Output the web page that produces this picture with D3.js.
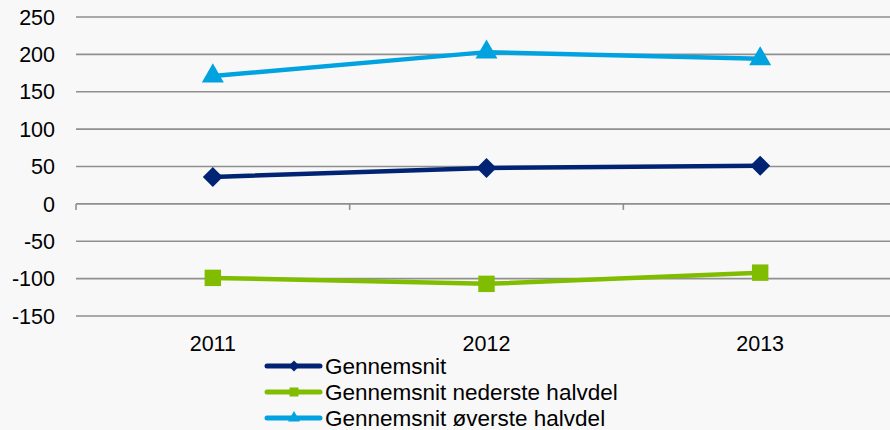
<!DOCTYPE html>
<html>
<head>
<meta charset="utf-8">
<script src="https://cdn.jsdelivr.net/npm/d3@7"></script>
<style>
  html, body { margin: 0; padding: 0; background: #f8f8f8; }
  svg { display: block; font-family: Arial, "Liberation Sans", sans-serif; }
</style>
</head>
<body>
<svg id="chart" width="890" height="430"></svg>
<script>
const years = ["2011", "2012", "2013"];
const avg = [36, 48, 51];
const avgLower = [-99, -107, -92];
const avgUpper = [171, 203, 194];
const yTicks = [-150, -100, -50, 0, 50, 100, 150, 200, 250];

const series = [
  { name: "Gennemsnit", values: avg, color: "#002473", symbol: "diamond" },
  { name: "Gennemsnit nederste halvdel", values: avgLower, color: "#80bc00", symbol: "square" },
  { name: "Gennemsnit øverste halvdel", values: avgUpper, color: "#00a3e0", symbol: "triangle" }
];

const svg = d3.select("#chart");
const left = 76, right = 897;

const x = d3.scaleBand().domain(years).range([left, right]);
const y = d3.scaleLinear().domain([-150, 250]).range([316, 17]);

// grid
svg.append("g")
  .selectAll("line")
  .data(yTicks)
  .join("line")
  .attr("x1", left)
  .attr("x2", right)
  .attr("y1", d => y(d))
  .attr("y2", d => y(d))
  .attr("stroke", "#8f8f8f")
  .attr("stroke-width", 1.6);

// y labels
svg.append("g")
  .selectAll("text")
  .data(yTicks)
  .join("text")
  .attr("x", 55)
  .attr("y", d => y(d))
  .attr("dy", "0.36em")
  .attr("text-anchor", "end")
  .attr("font-size", 21.5)
  .attr("fill", "#000")
  .text(d => d);

// category tick marks on the zero line
const bounds = [left].concat(years.slice(1).map(d => x(d)));
svg.append("g")
  .selectAll("line")
  .data(bounds)
  .join("line")
  .attr("x1", d => d)
  .attr("x2", d => d)
  .attr("y1", y(0))
  .attr("y2", y(0) + 6)
  .attr("stroke", "#8f8f8f")
  .attr("stroke-width", 1.6);

// x labels
svg.append("g")
  .selectAll("text")
  .data(years)
  .join("text")
  .attr("x", d => x(d) + x.bandwidth() / 2)
  .attr("y", 351)
  .attr("text-anchor", "middle")
  .attr("font-size", 21.5)
  .attr("fill", "#000")
  .text(d => d);

// diamond = square turned 45deg
const symType = { diamond: d3.symbolSquare, square: d3.symbolSquare, triangle: d3.symbolTriangle };
const symSize = { diamond: 200, square: 270, triangle: 210 };
const symRot = { diamond: 45, square: 0, triangle: 0 };

const line = d3.line()
  .x((d, i) => x(years[i]) + x.bandwidth() / 2)
  .y(d => y(d));

series.forEach(s => {
  const g = svg.append("g");
  g.append("path")
    .attr("d", line(s.values))
    .attr("fill", "none")
    .attr("stroke", s.color)
    .attr("stroke-width", 4.5);
  g.selectAll("path.mark")
    .data(s.values)
    .join("path")
    .attr("class", "mark")
    .attr("transform", (d, i) => `translate(${x(years[i]) + x.bandwidth() / 2},${y(d)}) rotate(${symRot[s.symbol]})`)
    .attr("d", d3.symbol().type(symType[s.symbol]).size(symSize[s.symbol]))
    .attr("fill", s.color);
});

// legend
const legend = svg.append("g").attr("transform", "translate(267,366)");
series.forEach((s, i) => {
  const row = legend.append("g").attr("transform", `translate(0,${i * 26})`);
  row.append("line")
    .attr("x1", 0).attr("x2", 53)
    .attr("stroke", s.color)
    .attr("stroke-width", 5)
    .attr("stroke-linecap", "round");
  row.append("path")
    .attr("transform", `translate(27,0) rotate(${symRot[s.symbol]})`)
    .attr("d", d3.symbol().type(symType[s.symbol]).size(symSize[s.symbol] * 0.3))
    .attr("fill", s.color);
  row.append("text")
    .attr("x", 58)
    .attr("dy", "0.36em")
    .attr("font-size", 22.5)
    .attr("fill", "#000")
    .text(s.name);
});
</script>
</body>
</html>
